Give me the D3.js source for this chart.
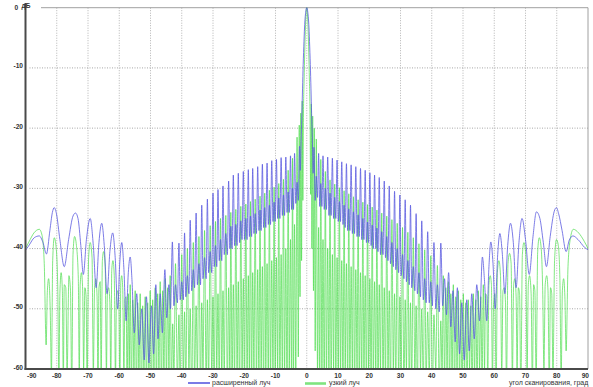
<!DOCTYPE html>
<html>
<head>
<meta charset="utf-8">
<script src="https://cdn.jsdelivr.net/npm/d3@7"></script>
<style>
  body { margin: 0; background: #fff; }
  svg { display: block; font-family: 'Liberation Sans', Arial, sans-serif; }
  .axis-text { font-size: 6.6px; font-weight: bold; fill: #333; }
  .legend-text { font-size: 7px; fill: #333; }
</style>
</head>
<body>
<svg id="chart" width="593" height="387"></svg>
<script>
// scan angle ticks (deg) and level ticks (dB)
const xTicks = [-90, -80, -70, -60, -50, -40, -30, -20, -10, 0, 10, 20, 30, 40, 50, 60, 70, 80, 90];
const yTicks = [0, -10, -20, -30, -40, -50, -60];
const seriesNames = ['расширенный луч', 'узкий луч'];
const xTitle = 'угол сканирования, град';
const yUnit = 'дБ';

// broadened beam, [angle, dB]
const wideBeam = [
  [-90, -40.3], [-88.8, -39.4], [-87.2, -38.2], [-85.6, -37.9], [-84.4, -39.0], [-83.3, -40.9], [-82.2, -37.0], [-81.4, -34.0],
  [-80.8, -33.2], [-80.1, -34.2], [-79.0, -38.5], [-77.6, -43.0], [-76.2, -38.5], [-74.8, -34.6], [-74.0, -34.1], [-73.2, -35.0],
  [-72.3, -39.5], [-71.5, -44.3], [-70.5, -38.5], [-69.3, -35.0], [-68.3, -39.5], [-67.4, -46.5], [-66.5, -39.0], [-65.6, -35.8],
  [-64.8, -39.5], [-63.9, -47.5], [-63.0, -40.5], [-62.1, -37.4], [-61.3, -41.5], [-60.5, -50.0], [-59.8, -42.0], [-59.2, -39.0],
  [-58.5, -43.5], [-57.8, -52.0], [-57.1, -44.0], [-56.5, -41.4], [-55.9, -45.5], [-55.2, -54.0],
  [-54.4, -47.5], [-53.6, -56.0], [-52.8, -50.0], [-52.0, -58.5], [-51.3, -48.0], [-50.5, -59.0], [-49.7, -49.5], [-49.0, -57.5],
  [-48.3, -46.0], [-47.6, -55.0], [-46.9, -47.5], [-46.2, -54.0], [-45.4, -43.5], [-44.8, -51.5], [-44.1, -46.0], [-43.6, -50.0],
  [-43.0, -38.9], [-42.5, -49.5], [-42.0, -46.0], [-41.4, -49.0],
  [-40.9, -39.1], [-40.5, -48.5], [-40.0, -45.5], [-39.5, -48.5],
  [-39.1, -37.4], [-38.7, -48.0], [-38.2, -44.5], [-37.7, -47.5],
  [-37.3, -35.3], [-36.8, -47.0], [-36.3, -43.5], [-35.9, -46.5],
  [-35.4, -34.1], [-35.0, -46.0], [-34.5, -42.5], [-34.0, -46.0],
  [-33.6, -32.8], [-33.2, -45.0], [-32.7, -41.5], [-32.2, -45.0],
  [-31.8, -31.8], [-31.4, -44.0], [-30.9, -40.5], [-30.4, -44.0],
  [-30.0, -30.8], [-29.6, -43.0], [-29.2, -39.5], [-28.8, -43.0],
  [-28.4, -30.2], [-28.0, -42.0], [-27.6, -38.5], [-27.2, -42.0],
  [-26.8, -29.6], [-26.4, -41.0], [-25.9, -37.5], [-25.4, -41.0],
  [-25.0, -28.8], [-24.6, -40.0], [-24.3, -36.3], [-23.9, -40.0],
  [-23.5, -27.8], [-23.1, -39.5], [-22.7, -36.0], [-22.3, -39.5],
  [-21.9, -27.5], [-21.5, -39.0], [-21.1, -35.4], [-20.7, -38.5],
  [-20.3, -27.2], [-19.9, -38.5], [-19.5, -35.0], [-19.1, -38.5],
  [-18.7, -26.9], [-18.35, -38.0], [-18.0, -34.6], [-17.65, -38.0],
  [-17.3, -26.7], [-16.9, -37.5], [-16.5, -34.2], [-16.1, -37.5],
  [-15.7, -26.4], [-15.3, -37.0], [-14.95, -33.6], [-14.6, -37.0],
  [-14.2, -26.0], [-13.8, -36.5], [-13.45, -33.2], [-13.1, -36.5],
  [-12.7, -25.8], [-12.3, -36.0], [-11.95, -32.8], [-11.6, -36.0],
  [-11.2, -25.4], [-10.8, -35.5], [-10.45, -32.3], [-10.1, -35.5],
  [-9.7, -25.2], [-9.3, -35.0], [-8.95, -31.6], [-8.6, -35.0],
  [-8.2, -24.9], [-7.8, -34.5], [-7.45, -31.1], [-7.1, -34.5],
  [-6.7, -24.8], [-6.3, -34.0], [-5.95, -30.6], [-5.6, -34.0],
  [-5.2, -24.6], [-4.85, -33.5], [-4.55, -30.0], [-4.25, -33.5],
  [-3.9, -24.2], [-3.5, -32.5], [-3.1, -29.0], [-2.7, -32.0],
  [-2.3, -23.0], [-2.05, -27.0], [-1.8, -22.0], [-1.6, -18.5], [-1.4, -14.5], [-1.2, -10.5], [-0.95, -6.5], [-0.7, -3.2],
  [-0.35, -0.8], [0, 0], [0.35, -0.8], [0.7, -3.2], [0.95, -6.5], [1.2, -10.5], [1.4, -14.5], [1.6, -18.5], [1.8, -22.0],
  [2.05, -27.5], [2.3, -23.2],
  [2.7, -32.0], [3.05, -28.0], [3.45, -31.5], [3.8, -24.2],
  [4.15, -33.0], [4.5, -29.2], [4.85, -33.0], [5.2, -24.6],
  [5.6, -33.5], [5.95, -30.0], [6.3, -33.5], [6.7, -24.8],
  [7.1, -34.5], [7.45, -30.8], [7.8, -34.5], [8.2, -25.0],
  [8.6, -35.0], [8.95, -31.5], [9.3, -35.0], [9.7, -25.3],
  [10.1, -35.5], [10.45, -32.2], [10.8, -35.5], [11.2, -25.6],
  [11.6, -36.0], [11.95, -32.8], [12.3, -36.5], [12.7, -25.9],
  [13.1, -37.0], [13.45, -33.4], [13.8, -37.0], [14.2, -26.1],
  [14.6, -37.5], [14.95, -33.9], [15.3, -37.5], [15.7, -26.4],
  [16.1, -38.0], [16.45, -34.4], [16.8, -38.0], [17.2, -26.7],
  [17.6, -38.5], [17.95, -35.0], [18.3, -38.5], [18.7, -27.0],
  [19.1, -39.0], [19.45, -35.6], [19.8, -39.0], [20.2, -27.4],
  [20.6, -39.5], [20.95, -36.1], [21.3, -40.0], [21.7, -27.8],
  [22.1, -40.0], [22.45, -36.6], [22.8, -40.5], [23.2, -28.2],
  [23.6, -41.0], [24.0, -37.2], [24.4, -41.0], [24.8, -28.8],
  [25.2, -41.5], [25.6, -38.0], [26.0, -42.0], [26.4, -29.6],
  [26.8, -42.5], [27.25, -39.0], [27.7, -43.0], [28.1, -30.5],
  [28.5, -43.5], [28.95, -40.0], [29.4, -44.0], [29.8, -31.1],
  [30.2, -44.5], [30.65, -41.0], [31.1, -45.0], [31.5, -31.9],
  [31.9, -45.5], [32.35, -42.0], [32.8, -46.0], [33.2, -32.8],
  [33.6, -46.5], [34.1, -43.0], [34.6, -47.0], [35.0, -34.2],
  [35.4, -47.5], [35.9, -44.0], [36.4, -48.0], [36.8, -35.4],
  [37.3, -48.5], [37.75, -45.0], [38.2, -49.0], [38.7, -37.2],
  [39.2, -49.0], [39.7, -45.5], [40.2, -49.5], [40.7, -39.0],
  [41.3, -50.0], [41.8, -46.0], [42.4, -50.5], [42.9, -39.1],
  [43.5, -49.5], [44.1, -45.0], [44.7, -51.0], [45.4, -44.0], [46.1, -53.0], [46.8, -47.0], [47.5, -55.5], [48.2, -46.5],
  [48.9, -57.5], [49.6, -49.0], [50.4, -58.5], [51.2, -48.5], [52.0, -57.0], [52.8, -47.5], [53.6, -55.0], [54.4, -46.0],
  [55.3, -52.0],
  [56.2, -41.4], [56.9, -45.5], [57.6, -52.0], [58.3, -43.0], [58.9, -38.9], [59.6, -42.5], [60.3, -50.0], [61.1, -41.0],
  [61.8, -37.5], [62.6, -41.0], [63.4, -47.5], [64.3, -39.5], [65.2, -35.8], [66.1, -39.0], [67.0, -46.5], [67.9, -39.0],
  [68.9, -35.0], [70.0, -38.5], [71.2, -44.3], [72.4, -38.0], [73.5, -33.9], [74.6, -35.0], [75.7, -39.0], [76.7, -43.0],
  [77.9, -38.0], [79.2, -33.8], [79.9, -33.2], [80.6, -34.2], [81.7, -37.0], [83.0, -40.5], [84.0, -38.6], [85.2, -37.9],
  [86.8, -38.5], [88.9, -39.8], [90, -40.2]
];

// narrow beam, [angle, dB]
const narrowBeam = [
  [-90, -40.0], [-88.9, -38.9], [-87.3, -37.4], [-85.6, -36.8], [-84.7, -37.8], [-84.0, -42.5], [-83.4, -56], [-83.0, -47.0],
  [-82.6, -45.0], [-82.1, -50.0], [-81.7, -61], [-81.3, -42.0], [-80.8, -38.2], [-80.2, -39.8], [-79.7, -46.0], [-79.3, -62],
  [-79.0, -47.5], [-78.6, -44.0], [-78.2, -47.0], [-77.9, -63], [-77.6, -46.0], [-77.1, -46.5], [-76.7, -61], [-76.1, -44.5],
  [-75.6, -47.0], [-75.2, -64], [-74.8, -41.0], [-74.3, -38.0], [-73.7, -39.5], [-73.1, -45.0], [-72.8, -62], [-72.5, -46.0],
  [-72.1, -44.0], [-71.7, -47.0], [-71.4, -60], [-71.0, -46.5], [-70.6, -48.0], [-70.3, -63], [-69.8, -41.5], [-69.3, -39.0],
  [-68.7, -41.5], [-68.3, -61], [-67.9, -46.5], [-67.5, -45.0], [-67.1, -48.0], [-66.8, -64], [-66.5, -46.5], [-66.1, -45.5],
  [-65.8, -62], [-65.4, -42.0], [-65.0, -40.5], [-64.5, -43.0], [-64.1, -61], [-63.8, -47.5], [-63.4, -46.5], [-63.0, -49.0],
  [-62.7, -63], [-62.4, -43.5], [-62.0, -42.0], [-61.6, -44.5], [-61.2, -62], [-60.9, -48.0], [-60.5, -47.0], [-60.1, -49.5],
  [-59.8, -64], [-59.5, -45.5], [-59.2, -44.5], [-58.9, -46.5], [-58.5, -61], [-58.2, -48.5], [-57.8, -48.0], [-57.5, -63],
  [-57.1, -47.5], [-56.8, -60],
  [-56.5, -46.0], [-56.1, -63], [-55.7, -48.5], [-55.3, -60], [-54.9, -47.0], [-54.5, -64], [-54.1, -49.0], [-53.7, -61],
  [-53.3, -47.5], [-52.9, -66], [-52.5, -49.5], [-52.1, -60], [-51.7, -48.0], [-51.3, -63], [-50.9, -49.0], [-50.5, -61],
  [-50.1, -47.0], [-49.7, -65], [-49.3, -48.5], [-48.9, -60], [-48.5, -46.5], [-48.1, -63], [-47.7, -47.5], [-47.3, -60],
  [-46.9, -45.5], [-46.5, -64], [-46.1, -47.0], [-45.7, -61], [-45.3, -45.0], [-44.9, -62], [-44.5, -46.5], [-44.1, -60],
  [-43.7, -44.5], [-43.3, -63], [-42.9, -52.5], [-42.5, -61],
  [-42.0, -42.5], [-41.4, -62], [-40.9, -51], [-40.5, -64], [-40.0, -41.0], [-39.5, -61], [-39.1, -50.5], [-38.7, -63],
  [-38.2, -40.0], [-37.7, -60], [-37.3, -50], [-36.8, -65], [-36.3, -39.0], [-35.9, -62], [-35.4, -49.5], [-35.0, -61],
  [-34.5, -38.0], [-34.0, -64], [-33.6, -49], [-33.2, -60], [-32.7, -37.0], [-32.2, -63], [-31.8, -48.5], [-31.4, -62],
  [-30.9, -36.2], [-30.4, -61], [-30.0, -48], [-29.6, -65], [-29.2, -35.5], [-28.8, -60], [-28.4, -47.5], [-28.0, -63],
  [-27.6, -35.0], [-27.2, -62], [-26.8, -47], [-26.4, -61], [-25.9, -34.5], [-25.4, -64], [-25.0, -46.5], [-24.6, -60],
  [-24.3, -34.0], [-23.9, -63], [-23.5, -46], [-23.1, -62], [-22.7, -33.5], [-22.3, -61], [-21.9, -45.5], [-21.5, -65],
  [-21.1, -33.0], [-20.7, -60], [-20.3, -45], [-19.9, -63], [-19.5, -32.6], [-19.1, -62], [-18.7, -44.5], [-18.35, -61],
  [-18.0, -32.2], [-17.65, -64], [-17.3, -44], [-16.9, -60], [-16.5, -31.8], [-16.1, -63], [-15.7, -43.5], [-15.3, -62],
  [-14.95, -31.3], [-14.6, -61], [-14.2, -43], [-13.8, -65], [-13.45, -30.8], [-13.1, -60], [-12.7, -42.5], [-12.3, -63],
  [-11.95, -30.3], [-11.6, -62], [-11.2, -42], [-10.8, -61], [-10.45, -29.8], [-10.1, -64], [-9.7, -41.5], [-9.3, -60],
  [-8.95, -29.2], [-8.6, -63], [-8.2, -41], [-7.8, -62], [-7.45, -28.5], [-7.1, -61], [-6.7, -40], [-6.3, -65],
  [-5.95, -27.0], [-5.6, -60], [-5.2, -38.5], [-4.85, -63], [-4.55, -25.0], [-4.25, -62], [-3.9, -36], [-3.5, -61],
  [-3.1, -21.5], [-2.7, -58], [-2.4, -19.5], [-2.15, -48], [-1.9, -17.5], [-1.65, -42], [-1.45, -15.5], [-1.25, -32],
  [-1.05, -17.5], [-0.85, -12], [-0.65, -7.5], [-0.45, -3.8], [-0.22, -1.0], [0, 0],
  [0.22, -1.0], [0.45, -3.8], [0.65, -7.5], [0.85, -12], [1.05, -17.5], [1.25, -31], [1.45, -16.0], [1.65, -40],
  [1.9, -18.0], [2.15, -47], [2.4, -20.0], [2.7, -57],
  [3.05, -21.8], [3.45, -61], [3.8, -36.5], [4.15, -63], [4.5, -25.2], [4.85, -60], [5.2, -38.5], [5.6, -64],
  [5.95, -27.2], [6.3, -62], [6.7, -40.0], [7.1, -61], [7.45, -28.6], [7.8, -65], [8.2, -41.0], [8.6, -60],
  [8.95, -29.3], [9.3, -63], [9.7, -41.5], [10.1, -62], [10.45, -29.9], [10.8, -61], [11.2, -42.0], [11.6, -64],
  [11.95, -30.4], [12.3, -60], [12.7, -42.5], [13.1, -63], [13.45, -30.9], [13.8, -62], [14.2, -43.0], [14.6, -61],
  [14.95, -31.4], [15.3, -65], [15.7, -43.5], [16.1, -60], [16.45, -31.9], [16.8, -63], [17.2, -44.0], [17.6, -62],
  [17.95, -32.3], [18.3, -61], [18.7, -44.5], [19.1, -64], [19.45, -32.7], [19.8, -60], [20.2, -45.0], [20.6, -63],
  [20.95, -33.1], [21.3, -62], [21.7, -45.5], [22.1, -61], [22.45, -33.6], [22.8, -65], [23.2, -46.0], [23.6, -60],
  [24.0, -34.1], [24.4, -63], [24.8, -46.5], [25.2, -62], [25.6, -34.6], [26.0, -61], [26.4, -47.0], [26.8, -64],
  [27.25, -35.2], [27.7, -60], [28.1, -47.5], [28.5, -63], [28.95, -35.8], [29.4, -62], [29.8, -48.0], [30.2, -61],
  [30.65, -36.5], [31.1, -65], [31.5, -48.5], [31.9, -60], [32.35, -37.3], [32.8, -63], [33.2, -49.0], [33.6, -62],
  [34.1, -38.2], [34.6, -61], [35.0, -49.5], [35.4, -64], [35.9, -39.2], [36.4, -60], [36.8, -50.0], [37.3, -63],
  [37.75, -40.2], [38.2, -62], [38.7, -50.5], [39.2, -61], [39.7, -41.2], [40.2, -65], [40.7, -51.0], [41.3, -60],
  [41.8, -42.8], [42.4, -63], [42.9, -52.0], [43.3, -61],
  [43.7, -44.5], [44.1, -62], [44.5, -46.5], [44.9, -60], [45.3, -45.5], [45.7, -63], [46.1, -47.5], [46.5, -61],
  [46.9, -46.0], [47.3, -64], [47.7, -48.0], [48.1, -60], [48.5, -47.0], [48.9, -62], [49.3, -48.5], [49.7, -65],
  [50.1, -47.5], [50.5, -61], [50.9, -49.0], [51.3, -63], [51.7, -48.5], [52.1, -60], [52.5, -49.5], [52.9, -64],
  [53.3, -47.5], [53.7, -61], [54.1, -48.5], [54.5, -63], [54.9, -47.0], [55.3, -60], [55.7, -48.0], [56.1, -62],
  [56.5, -46.0], [56.9, -60], [57.2, -47.5], [57.6, -48.0], [57.9, -63], [58.3, -46.0], [58.7, -44.5], [59.1, -46.0],
  [59.4, -62], [59.8, -49.0], [60.2, -47.5], [60.6, -64], [61.0, -44.0], [61.5, -42.0], [62.0, -44.5], [62.4, -61],
  [62.8, -47.0], [63.2, -46.5], [63.6, -49.0], [63.9, -63], [64.4, -42.5], [64.9, -40.8], [65.4, -42.5], [65.8, -62],
  [66.2, -46.0], [66.6, -45.0], [67.0, -48.0], [67.3, -60], [67.7, -46.5], [68.1, -47.5], [68.5, -64], [69.0, -41.0],
  [69.5, -39.0], [70.1, -41.0], [70.5, -61], [70.9, -46.0], [71.3, -44.5], [71.8, -47.5], [72.2, -63], [72.6, -46.0],
  [73.0, -47.0], [73.4, -62], [73.9, -40.5], [74.4, -38.2], [75.0, -39.8], [75.5, -47.0], [75.9, -60], [76.3, -46.0],
  [76.8, -44.5], [77.2, -47.0], [77.6, -63], [78.0, -46.5], [78.4, -47.5], [78.8, -61], [79.3, -42.0], [79.9, -38.5],
  [80.5, -39.5], [81.0, -45.0], [81.4, -62], [81.8, -47.0], [82.2, -45.0], [82.6, -48.0], [83.0, -57], [83.6, -43.0],
  [84.4, -38.2], [85.3, -36.8], [87.0, -37.4], [88.8, -38.8], [90, -40.0]
];

const colors = ['#5a5ae0', '#4cdc4c'];

const margin = {top: 7.7, right: 5, bottom: 18, left: 25.5};
const width = 593;
const height = 387;

const svg = d3.select('#chart');

const x = d3.scaleLinear()
  .domain([-90, 90])
  .range([margin.left, width - margin.right]);

const y = d3.scaleLinear()
  .domain([-60, 0])
  .range([height - margin.bottom, margin.top]);

// dotted grid
svg.append('g')
  .selectAll('line')
  .data(xTicks.filter(d => d > -90 && d < 90))
  .enter().append('line')
  .attr('x1', d => x(d))
  .attr('x2', d => x(d))
  .attr('y1', y(0))
  .attr('y2', y(-60))
  .attr('stroke', '#b4b4b4')
  .attr('stroke-dasharray', '1,1.5');

svg.append('g')
  .selectAll('line')
  .data(yTicks.filter(d => d < 0 && d > -60))
  .enter().append('line')
  .attr('x1', x(-90) + 4)
  .attr('x2', x(90))
  .attr('y1', d => y(d))
  .attr('y2', d => y(d))
  .attr('stroke', '#a8a8a8')
  .attr('stroke-dasharray', '1,1.5');

// top and right frame
svg.append('line')
  .attr('x1', 41).attr('x2', x(90))
  .attr('y1', y(0)).attr('y2', y(0))
  .attr('stroke', '#a0a0a0');

svg.append('line')
  .attr('x1', x(90)).attr('x2', x(90))
  .attr('y1', y(0)).attr('y2', y(-60))
  .attr('stroke', '#a0a0a0');

svg.append('clipPath')
  .attr('id', 'plot-clip')
  .append('rect')
  .attr('x', x(-90))
  .attr('y', y(0) - 1)
  .attr('width', x(90) - x(-90))
  .attr('height', y(-60) - y(0) + 1);

const line = d3.line()
  .x(d => x(d[0]))
  .y(d => y(d[1]))
  .curve(d3.curveMonotoneX);

const plot = svg.append('g')
  .attr('clip-path', 'url(#plot-clip)');

plot.append('path')
  .datum(narrowBeam)
  .attr('fill', 'none')
  .attr('stroke', colors[1])
  .attr('stroke-width', 0.7)
  .attr('d', line);

plot.append('path')
  .datum(wideBeam)
  .attr('fill', 'none')
  .attr('stroke', colors[0])
  .attr('stroke-width', 0.8)
  .attr('d', line);

// axes lines
svg.append('line')
  .attr('x1', x(-90)).attr('x2', x(-90))
  .attr('y1', 3).attr('y2', y(-60) + 1)
  .attr('stroke', '#4a4a4a')
  .attr('stroke-width', 2);

svg.append('line')
  .attr('x1', x(-90) - 1).attr('x2', x(90))
  .attr('y1', y(-60)).attr('y2', y(-60))
  .attr('stroke', '#4a4a4a')
  .attr('stroke-width', 2);

// y labels
svg.append('g')
  .selectAll('text')
  .data(yTicks.filter(d => d < 0))
  .enter().append('text')
  .attr('class', 'axis-text')
  .attr('x', 23)
  .attr('y', d => y(d) + 0.5)
  .attr('text-anchor', 'end')
  .text(d => d);

svg.append('text')
  .attr('class', 'axis-text')
  .attr('x', 14.5)
  .attr('y', y(0) + 2)
  .text('0');

svg.append('text')
  .attr('class', 'axis-text')
  .attr('x', 21.5)
  .attr('y', y(0))
  .attr('font-size', '6px')
  .text(yUnit);

// x labels
svg.append('g')
  .selectAll('text')
  .data(xTicks)
  .enter().append('text')
  .attr('class', 'axis-text')
  .attr('x', d => d === -90 ? x(d) + 1.5 : (d === 90 ? x(d) + 1 : x(d)))
  .attr('y', 377.5)
  .attr('text-anchor', d => d === -90 ? 'start' : (d === 90 ? 'end' : 'middle'))
  .text(d => d);

// legend
const legendItems = [
  {name: seriesNames[0], color: colors[0], x1: 188, x2: 210, y: 383, w: 1.6, tx: 212},
  {name: seriesNames[1], color: '#7fe47f', x1: 305, x2: 326, y: 383.5, w: 2.6, tx: 329}
];

legendItems.forEach(d => {
  svg.append('line')
    .attr('x1', d.x1).attr('x2', d.x2)
    .attr('y1', d.y).attr('y2', d.y)
    .attr('stroke', d.color)
    .attr('stroke-width', d.w);
  svg.append('text')
    .attr('class', 'legend-text')
    .attr('x', d.tx)
    .attr('y', 385.4)
    .text(d.name);
});

svg.append('text')
  .attr('class', 'legend-text')
  .attr('x', 509)
  .attr('y', 385.4)
  .attr('font-size', '6.7px')
  .text(xTitle);
</script>
</body>
</html>
